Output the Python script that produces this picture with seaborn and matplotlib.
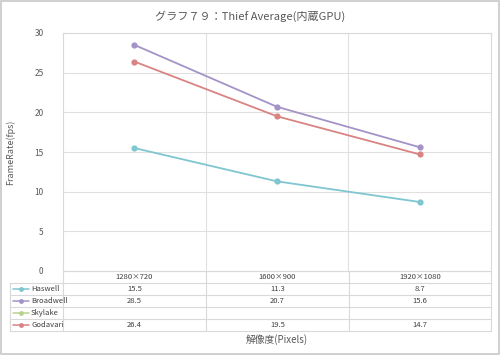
import pandas as pd
import matplotlib
matplotlib.use("Agg")
import matplotlib.pyplot as plt
import seaborn as sns
from matplotlib.lines import Line2D
from matplotlib.patches import Rectangle

# datos
resoluciones = ["1280×720", "1600×900", "1920×1080"]
series = ["Haswell", "Broadwell", "Skylake", "Godavari"]
haswell = [15.5, 11.3, 8.7]
broadwell = [28.5, 20.7, 15.6]
skylake = [None, None, None]
godavari = [26.4, 19.5, 14.7]
colores = ["#7fc6d0", "#a493c8", "#b9d38f", "#d98383"]

valores = [haswell, broadwell, skylake, godavari]
filas = []
for nombre, vals in zip(series, valores):
    for i, v in enumerate(vals):
        if v is not None:
            filas.append({"serie": nombre, "x": i, "fps": v})
df = pd.DataFrame(filas)

sns.set_theme(style="white")
plt.rcParams["font.family"] = ["Noto Sans CJK JP", "DejaVu Sans"]

W, H = 500, 355
fig = plt.figure(figsize=(W / 100, H / 100), dpi=100)
fig.patch.set_facecolor("white")
fig.add_artist(Rectangle((0.002, 0.003), 0.996, 0.994, transform=fig.transFigure,
                         fill=False, edgecolor="#c8c8c8", lw=1.2))

x0, x1 = 63, 491
y_top, y_bot = 33, 271
ax = fig.add_axes([x0 / W, 1 - y_bot / H, (x1 - x0) / W, (y_bot - y_top) / H])

paleta = dict(zip(series, colores))
sns.lineplot(data=df, x="x", y="fps", hue="serie", hue_order=series, palette=paleta,
             marker="o", markersize=4.5, markeredgewidth=0, linewidth=1.3,
             legend=False, ax=ax)

ax.set_xlim(-0.5, 2.5)
ax.set_ylim(0, 30)
ax.set_yticks(range(0, 31, 5))
ax.set_xticks([])
ax.set_xlabel("")
ax.set_ylabel("")
for y in range(5, 31, 5):
    ax.axhline(y, color="#e0e0e0", lw=0.8, zorder=0)
for xv in [0.5, 1.5]:
    ax.axvline(xv, color="#e0e0e0", lw=0.8, zorder=0)
for s in ax.spines.values():
    s.set_color("#d9d9d9")
    s.set_linewidth(0.8)
ax.tick_params(axis="y", labelsize=6, colors="#595959", length=0, pad=14)

fig.text(0.5, 1 - 16 / H, "グラフ７９：Thief Average(内蔵GPU)", ha="center", va="center",
         fontsize=8, color="#595959")
fig.text(10 / W, 1 - 152 / H, "FrameRate(fps)", rotation=90, ha="center", va="center",
         fontsize=6.5, color="#595959")
fig.text((x0 + x1) / 2 / W, 1 - 340 / H, "解像度(Pixels)", ha="center", va="center",
         fontsize=7, color="#595959")

# tabla de datos
tx = fig.add_axes([0, 0, 1, 1])
tx.set_xlim(0, W)
tx.set_ylim(H, 0)
tx.axis("off")
bordes = [271, 283, 295, 307, 319, 331]
gris = "#d9d9d9"
for i, yb in enumerate(bordes):
    xi = x0 if i == 0 else 10
    tx.plot([xi, x1], [yb, yb], color=gris, lw=0.8)
for xv in [x0, 206, 349, x1]:
    tx.plot([xv, xv], [bordes[0], bordes[-1]], color=gris, lw=0.8)
tx.plot([10, 10], [bordes[1], bordes[-1]], color=gris, lw=0.8)

centros = [(x0 + 206) / 2, (206 + 349) / 2, (349 + x1) / 2]
for c, r in zip(centros, resoluciones):
    tx.text(c, (bordes[0] + bordes[1]) / 2, r, ha="center", va="center",
            fontsize=5.5, color="#404040")
for k, (nombre, vals, col) in enumerate(zip(series, valores, colores)):
    ym = (bordes[k + 1] + bordes[k + 2]) / 2
    tx.add_line(Line2D([13, 29], [ym, ym], color=col, lw=1.1))
    tx.plot(21, ym, "o", color=col, markersize=3.5, markeredgewidth=0)
    tx.text(31, ym, nombre, ha="left", va="center", fontsize=5.5, color="#404040")
    for c, v in zip(centros, vals):
        if v is not None:
            tx.text(c, ym, f"{v}", ha="center", va="center", fontsize=5.5, color="#404040")

fig.savefig("out.png", dpi=100)
